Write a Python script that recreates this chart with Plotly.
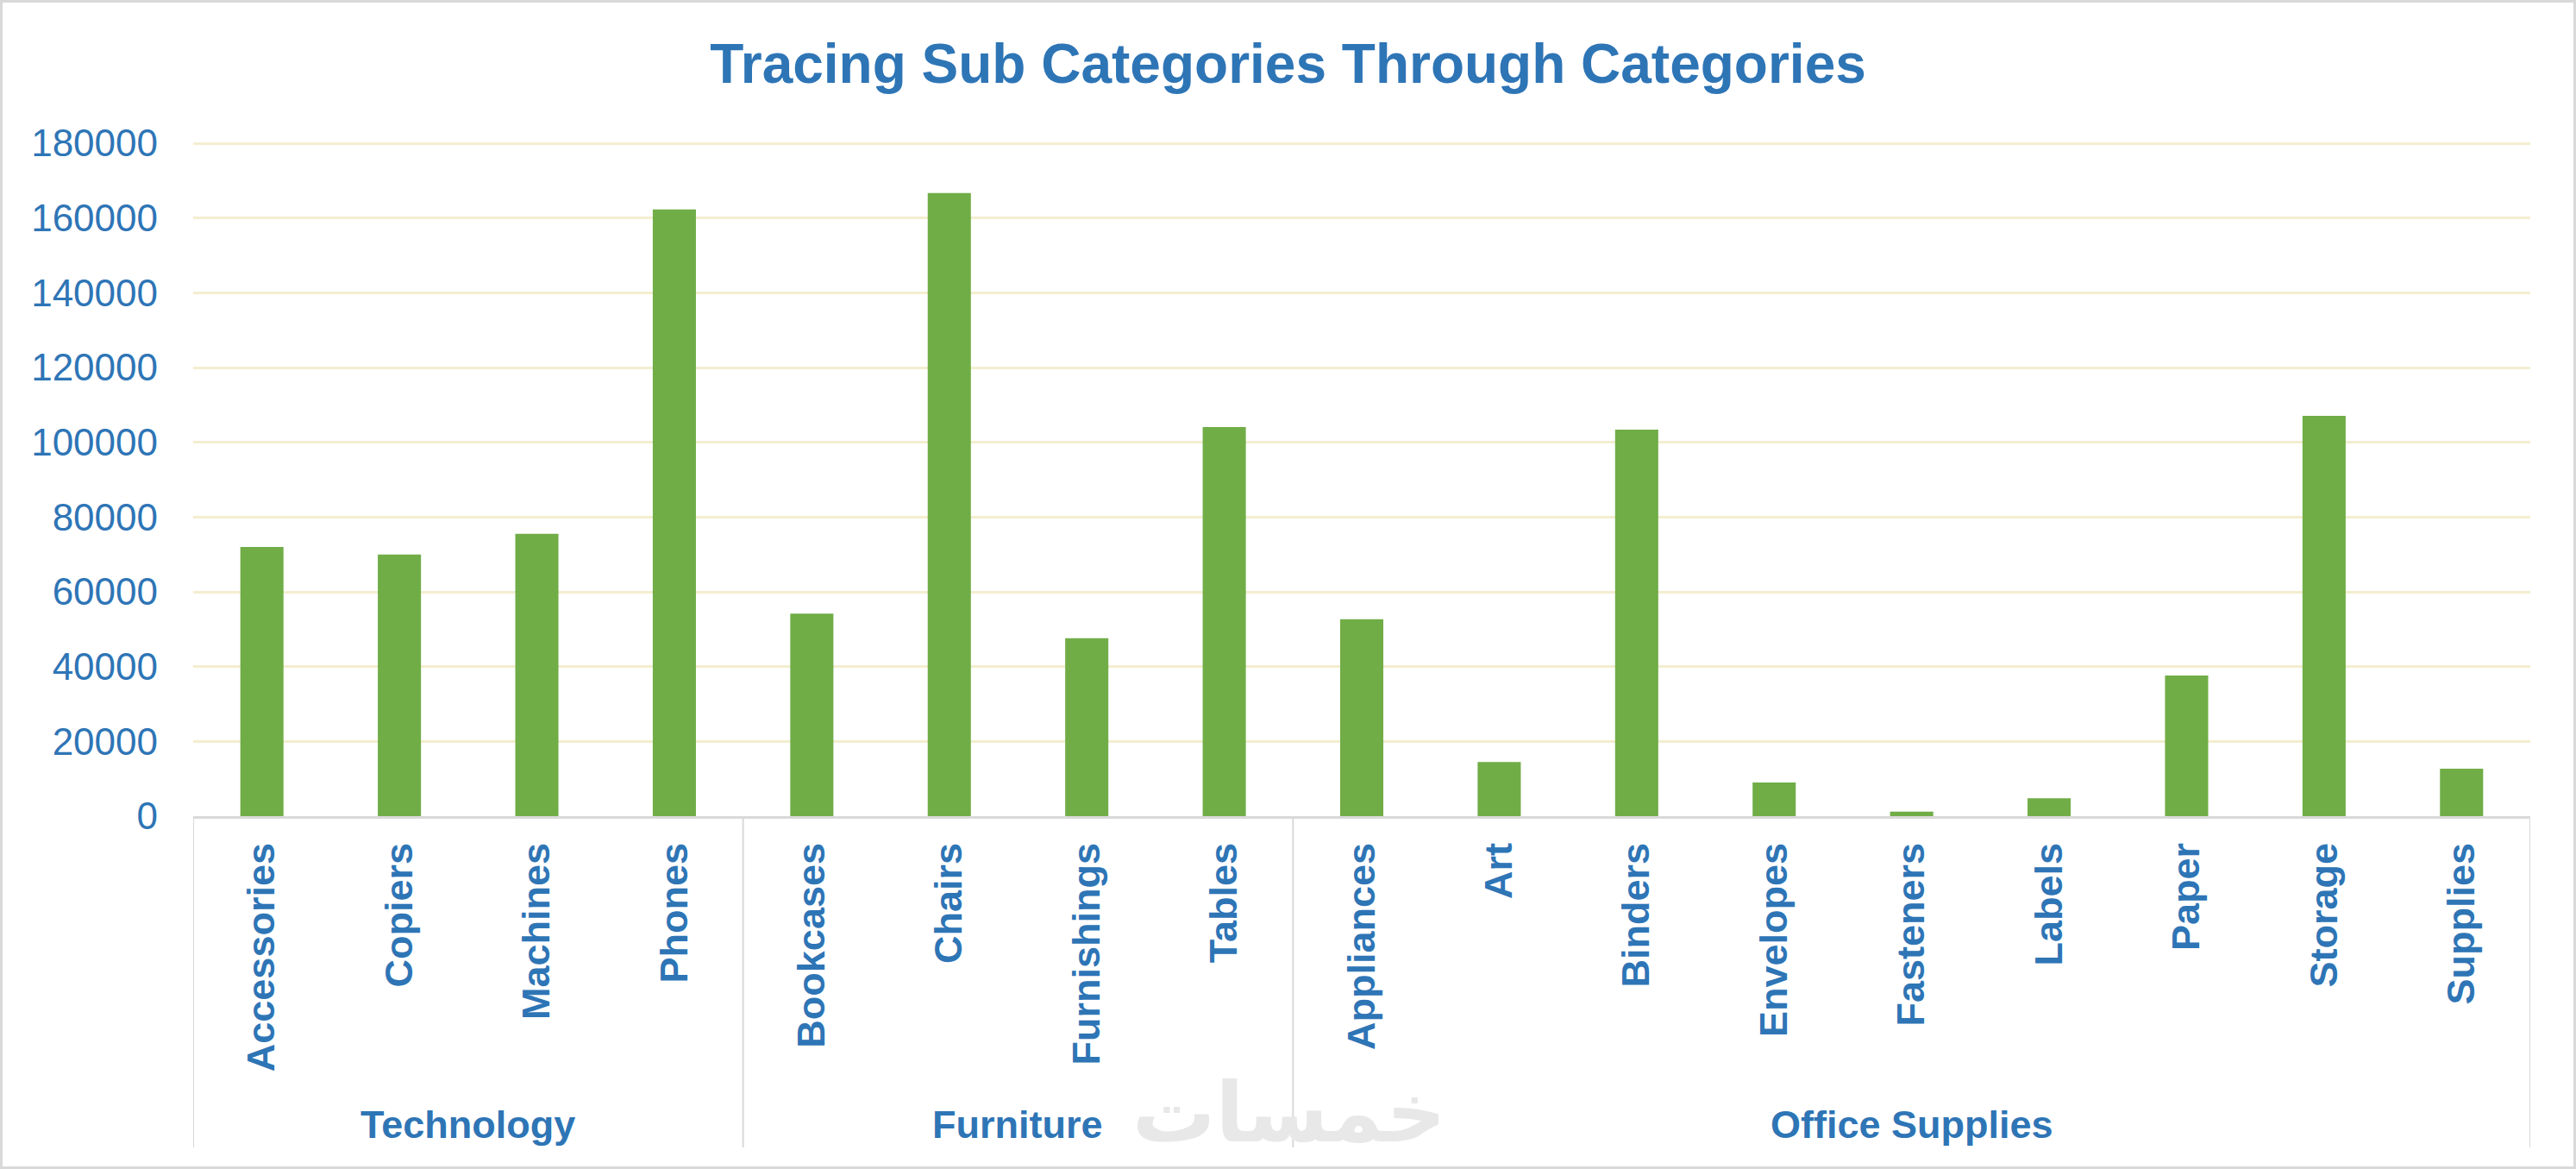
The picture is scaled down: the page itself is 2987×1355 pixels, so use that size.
import plotly.graph_objects as go

# ---- data ----
categories = ["Technology", "Furniture", "Office Supplies"]
sub_categories = [
    ["Accessories", "Copiers", "Machines", "Phones"],
    ["Bookcases", "Chairs", "Furnishings", "Tables"],
    ["Appliances", "Art", "Binders", "Envelopes", "Fasteners", "Labels", "Paper", "Storage", "Supplies"],
]
sales = [
    [72000, 70000, 75500, 162300],
    [54200, 166700, 47600, 104100],
    [52700, 14500, 103400, 9000, 1200, 4800, 37600, 107100, 12700],
]
y_ticks = [0, 20000, 40000, 60000, 80000, 100000, 120000, 140000, 160000, 180000]
title_text = "Tracing Sub Categories Through Categories"
watermark = "خمسات"

BLUE = "#2E75B6"
GREEN = "#70AD47"
GRID = "#F3EECF"
AXIS = "#D9D9D9"
FONT = "Liberation Sans, Arial, sans-serif"

W, H = 2987, 1355
ML, MR, MT, MB = 224, 53, 165, 409
plot_h = H - MT - MB

x_labels = [s for grp in sub_categories for s in grp]
y_vals = [v for grp in sales for v in grp]

fig = go.Figure()
fig.add_trace(go.Bar(
    x=x_labels, y=y_vals,
    marker=dict(color=GREEN, line=dict(width=0)),
    hoverinfo="x+y",
))

def to_paper_y(px_y):
    return (H - MB - px_y) / plot_h

box_bottom = to_paper_y(1330)
shapes = []
bounds = [-0.5]
n = 0
for grp in sub_categories:
    n += len(grp)
    bounds.append(n - 0.5)
for b in bounds:
    shapes.append(dict(type="line", xref="x", yref="paper", x0=b, x1=b,
                       y0=0, y1=box_bottom, line=dict(color=AXIS, width=2)))
# outer chart border
shapes.append(dict(type="rect", xref="paper", yref="paper",
                   x0=(1.5 - ML) / (W - ML - MR), x1=(W - 1.5 - ML) / (W - ML - MR),
                   y0=to_paper_y(H - 1.5), y1=to_paper_y(1.5),
                   line=dict(color=AXIS, width=3), fillcolor="rgba(0,0,0,0)"))

annotations = []
start = 0
for cat, grp in zip(categories, sub_categories):
    center = start + (len(grp) - 1) / 2
    annotations.append(dict(x=center, y=to_paper_y(1303), xref="x", yref="paper",
                            text=f"<b>{cat}</b>", showarrow=False,
                            font=dict(family=FONT, size=45, color=BLUE),
                            xanchor="center", yanchor="middle"))
    start += len(grp)

annotations.append(dict(x=(1495 - ML) / (W - ML - MR), y=to_paper_y(1290),
                        xref="paper", yref="paper", text=f"<b>{watermark}</b>", showarrow=False,
                        font=dict(family="DejaVu Sans", size=96, color="#E8E8E8"),
                        xanchor="center", yanchor="middle"))

fig.update_layout(
    width=W, height=H,
    margin=dict(l=ML, r=MR, t=MT, b=MB),
    paper_bgcolor="white", plot_bgcolor="white",
    showlegend=False,
    bargap=0.686,
    title=dict(text=f"<b>{title_text}</b>", x=0.5, xanchor="center",
               y=1 - 74 / H, yanchor="middle", yref="container",
               font=dict(family=FONT, size=64, color=BLUE)),
    shapes=shapes,
    annotations=annotations,
    font=dict(family=FONT, color=BLUE),
)
fig.update_xaxes(
    type="category",
    categoryorder="array", categoryarray=x_labels,
    range=[-0.5, len(x_labels) - 0.5],
    tickangle=-90,
    tickfont=dict(family=FONT, size=45, color=BLUE, weight="bold"),
    showline=True, linecolor=AXIS, linewidth=3,
    showgrid=False, ticks="", ticklabelstandoff=10,
    fixedrange=True,
)
fig.update_yaxes(
    range=[0, 180250],
    tickvals=y_ticks, ticktext=[str(t) for t in y_ticks],
    tickfont=dict(family=FONT, size=44, color=BLUE),
    showgrid=True, gridcolor=GRID, gridwidth=3,
    zeroline=False, showline=False, ticks="",
    ticklabelstandoff=40,
    fixedrange=True,
)

fig.write_html("out.html",
               config={"displayModeBar": False},
               post_script="document.body.style.margin='0px';document.body.style.overflow='hidden';")
